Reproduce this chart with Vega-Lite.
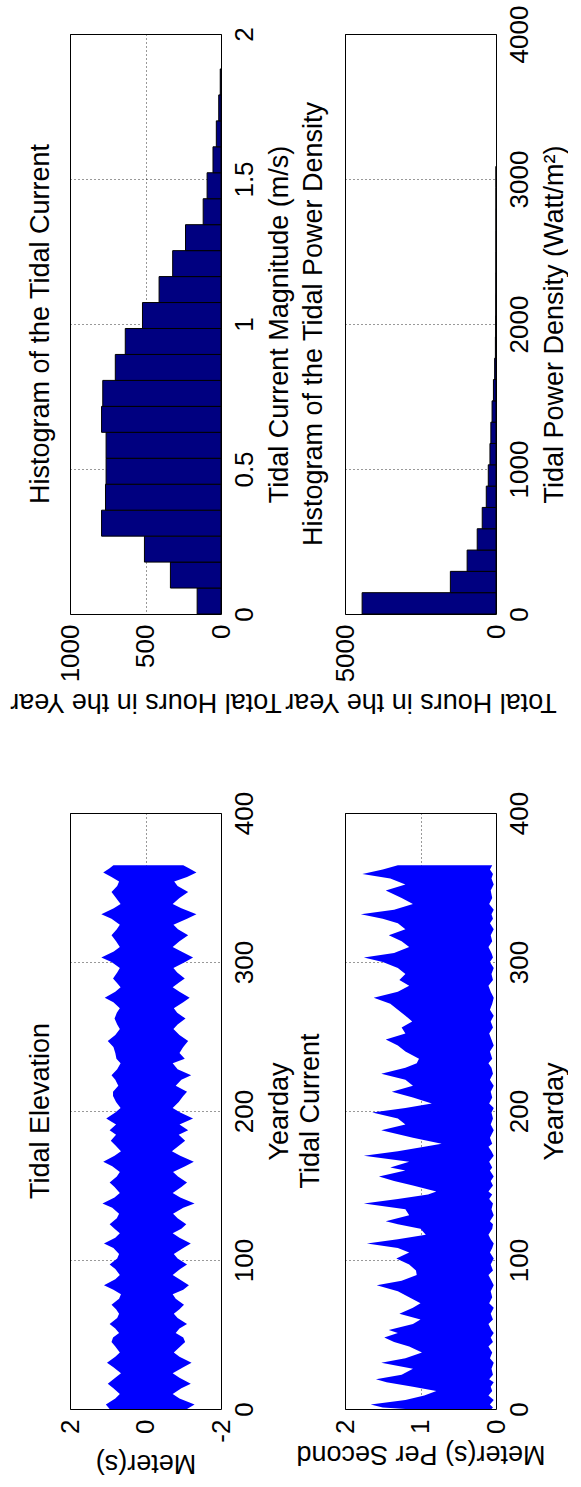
{
  "$schema": "https://vega.github.io/schema/vega-lite/v6.json",
  "padding": {"left": 8, "top": 4, "right": 0, "bottom": 0},
  "background": "white",
  "bounds": "flush",
  "columns": 2,
  "spacing": {"row": 199, "column": 124},
  "datasets": {
    "hist_current": [
      {"lo": 0, "hi": 0.0895, "hours": 158},
      {"lo": 0.0895, "hi": 0.179, "hours": 335},
      {"lo": 0.179, "hi": 0.2685, "hours": 507},
      {"lo": 0.2685, "hi": 0.358, "hours": 791},
      {"lo": 0.358, "hi": 0.4475, "hours": 765},
      {"lo": 0.4475, "hi": 0.537, "hours": 761},
      {"lo": 0.537, "hi": 0.6265, "hours": 761},
      {"lo": 0.6265, "hi": 0.716, "hours": 791},
      {"lo": 0.716, "hi": 0.8055, "hours": 783},
      {"lo": 0.8055, "hi": 0.895, "hours": 700},
      {"lo": 0.895, "hi": 0.9845, "hours": 634},
      {"lo": 0.9845, "hi": 1.074, "hours": 520},
      {"lo": 1.074, "hi": 1.1635, "hours": 410},
      {"lo": 1.1635, "hi": 1.253, "hours": 320},
      {"lo": 1.253, "hi": 1.3425, "hours": 235},
      {"lo": 1.3425, "hi": 1.432, "hours": 118},
      {"lo": 1.432, "hi": 1.5215, "hours": 92},
      {"lo": 1.5215, "hi": 1.611, "hours": 53},
      {"lo": 1.611, "hi": 1.7005, "hours": 31},
      {"lo": 1.7005, "hi": 1.79, "hours": 15},
      {"lo": 1.79, "hi": 1.8795, "hours": 5}
    ],
    "hist_power": [
      {"lo": 0, "hi": 147, "hours": 4433},
      {"lo": 147, "hi": 294, "hours": 1511},
      {"lo": 294, "hi": 441, "hours": 956},
      {"lo": 441, "hi": 588, "hours": 622},
      {"lo": 588, "hi": 735, "hours": 456},
      {"lo": 735, "hi": 882, "hours": 322},
      {"lo": 882, "hi": 1029, "hours": 256},
      {"lo": 1029, "hi": 1176, "hours": 200},
      {"lo": 1176, "hi": 1323, "hours": 170},
      {"lo": 1323, "hi": 1470, "hours": 130},
      {"lo": 1470, "hi": 1617, "hours": 85},
      {"lo": 1617, "hi": 1764, "hours": 45},
      {"lo": 1764, "hi": 1911, "hours": 20},
      {"lo": 1911, "hi": 2058, "hours": 12},
      {"lo": 2058, "hi": 2205, "hours": 8},
      {"lo": 2205, "hi": 2352, "hours": 6},
      {"lo": 2352, "hi": 2499, "hours": 4},
      {"lo": 2499, "hi": 2646, "hours": 3},
      {"lo": 2646, "hi": 2793, "hours": 2},
      {"lo": 2793, "hi": 2940, "hours": 1},
      {"lo": 2940, "hi": 3087, "hours": 1}
    ],
    "elevation": [
      {"day": 0, "hi": 0.95, "lo": -1.1},
      {"day": 3, "hi": 1.05, "lo": -1.3},
      {"day": 7, "hi": 0.8, "lo": -0.9},
      {"day": 10, "hi": 0.68, "lo": -0.72},
      {"day": 14, "hi": 0.85, "lo": -0.95},
      {"day": 17, "hi": 1.0, "lo": -1.2},
      {"day": 21, "hi": 0.8, "lo": -0.9},
      {"day": 24, "hi": 0.65, "lo": -0.72},
      {"day": 28, "hi": 0.85, "lo": -1.0},
      {"day": 31, "hi": 1.02, "lo": -1.22},
      {"day": 35, "hi": 0.8, "lo": -0.9},
      {"day": 38, "hi": 0.68, "lo": -0.75},
      {"day": 42, "hi": 0.8, "lo": -0.92},
      {"day": 45, "hi": 0.9, "lo": -1.05},
      {"day": 48, "hi": 0.86, "lo": -1.0},
      {"day": 51, "hi": 0.7, "lo": -0.8},
      {"day": 54, "hi": 0.8, "lo": -0.9},
      {"day": 57, "hi": 0.95, "lo": -1.1},
      {"day": 61, "hi": 0.75, "lo": -0.85},
      {"day": 64, "hi": 0.7, "lo": -0.75},
      {"day": 67, "hi": 0.78, "lo": -0.9},
      {"day": 70, "hi": 0.9, "lo": -1.02},
      {"day": 74, "hi": 0.7, "lo": -0.8},
      {"day": 77, "hi": 0.65, "lo": -0.72},
      {"day": 80, "hi": 0.85, "lo": -1.0},
      {"day": 83, "hi": 1.1, "lo": -1.15},
      {"day": 87, "hi": 0.8, "lo": -0.9},
      {"day": 90, "hi": 0.68, "lo": -0.72},
      {"day": 94, "hi": 0.8, "lo": -0.92},
      {"day": 97, "hi": 0.95, "lo": -1.1},
      {"day": 101, "hi": 0.75, "lo": -0.85},
      {"day": 104, "hi": 0.7, "lo": -0.75},
      {"day": 108, "hi": 0.85, "lo": -1.0},
      {"day": 111, "hi": 1.1, "lo": -1.2},
      {"day": 115, "hi": 0.8, "lo": -0.9},
      {"day": 118, "hi": 0.68, "lo": -0.72},
      {"day": 121, "hi": 0.82, "lo": -0.95},
      {"day": 124, "hi": 0.95, "lo": -1.08},
      {"day": 128, "hi": 0.76, "lo": -0.85},
      {"day": 131, "hi": 0.7, "lo": -0.73},
      {"day": 135, "hi": 0.88, "lo": -1.0},
      {"day": 138, "hi": 1.14, "lo": -1.3},
      {"day": 142, "hi": 0.82, "lo": -0.92},
      {"day": 145, "hi": 0.68, "lo": -0.72},
      {"day": 149, "hi": 0.82, "lo": -0.95},
      {"day": 152, "hi": 0.95, "lo": -1.1},
      {"day": 156, "hi": 0.76, "lo": -0.86},
      {"day": 159, "hi": 0.68, "lo": -0.73},
      {"day": 163, "hi": 0.88, "lo": -1.05},
      {"day": 166, "hi": 1.12, "lo": -1.28},
      {"day": 170, "hi": 0.82, "lo": -0.92},
      {"day": 173, "hi": 0.65, "lo": -0.7},
      {"day": 177, "hi": 0.8, "lo": -0.9},
      {"day": 180, "hi": 0.92, "lo": -1.05},
      {"day": 184, "hi": 0.78, "lo": -0.88},
      {"day": 187, "hi": 0.95, "lo": -1.13},
      {"day": 191, "hi": 0.78, "lo": -0.9},
      {"day": 195, "hi": 1.04, "lo": -1.26},
      {"day": 199, "hi": 0.8, "lo": -0.92},
      {"day": 202, "hi": 0.66, "lo": -0.72},
      {"day": 206, "hi": 0.78, "lo": -0.88},
      {"day": 210, "hi": 0.86, "lo": -1.0},
      {"day": 213, "hi": 0.86, "lo": -1.1},
      {"day": 217, "hi": 0.72, "lo": -0.8},
      {"day": 221, "hi": 0.8, "lo": -0.95},
      {"day": 224, "hi": 0.9, "lo": -1.21},
      {"day": 228, "hi": 0.75, "lo": -0.85},
      {"day": 232, "hi": 0.66, "lo": -0.72},
      {"day": 235, "hi": 0.77, "lo": -1.04},
      {"day": 239, "hi": 0.8, "lo": -0.9},
      {"day": 243, "hi": 0.85, "lo": -1.0},
      {"day": 247, "hi": 1.0, "lo": -1.13},
      {"day": 251, "hi": 0.8, "lo": -0.9},
      {"day": 255, "hi": 0.68, "lo": -0.74},
      {"day": 258, "hi": 0.75, "lo": -0.85},
      {"day": 262, "hi": 0.82, "lo": -1.06},
      {"day": 266, "hi": 0.76, "lo": -0.84},
      {"day": 269, "hi": 0.68, "lo": -0.75},
      {"day": 273, "hi": 0.85, "lo": -1.0},
      {"day": 276, "hi": 1.08, "lo": -1.17},
      {"day": 280, "hi": 0.8, "lo": -0.9},
      {"day": 283, "hi": 0.66, "lo": -0.72},
      {"day": 286, "hi": 0.76, "lo": -0.88},
      {"day": 289, "hi": 0.86, "lo": -1.04},
      {"day": 293, "hi": 0.75, "lo": -0.84},
      {"day": 296, "hi": 0.68, "lo": -0.74},
      {"day": 300, "hi": 0.9, "lo": -1.05},
      {"day": 303, "hi": 1.17, "lo": -1.26},
      {"day": 307, "hi": 0.84, "lo": -0.95},
      {"day": 310, "hi": 0.68, "lo": -0.72},
      {"day": 314, "hi": 0.78, "lo": -0.9},
      {"day": 318, "hi": 0.9, "lo": -1.13},
      {"day": 322, "hi": 0.76, "lo": -0.86},
      {"day": 325, "hi": 0.68, "lo": -0.74},
      {"day": 329, "hi": 0.9, "lo": -1.1},
      {"day": 332, "hi": 1.17, "lo": -1.35},
      {"day": 336, "hi": 0.84, "lo": -0.95},
      {"day": 339, "hi": 0.66, "lo": -0.72},
      {"day": 343, "hi": 0.78, "lo": -0.9},
      {"day": 347, "hi": 0.9, "lo": -1.13},
      {"day": 351, "hi": 0.75, "lo": -0.85},
      {"day": 354, "hi": 0.7, "lo": -0.76},
      {"day": 357, "hi": 0.9, "lo": -1.1},
      {"day": 360, "hi": 1.12, "lo": -1.35},
      {"day": 363, "hi": 0.95, "lo": -1.15},
      {"day": 365, "hi": 0.85, "lo": -1.0}
    ],
    "current": [
      {"day": 0, "hi": 1.2, "lo": 0.06},
      {"day": 1, "hi": 1.5, "lo": 0.04},
      {"day": 3, "hi": 1.66, "lo": 0.08},
      {"day": 6, "hi": 1.2, "lo": 0.03},
      {"day": 9, "hi": 0.95, "lo": 0.1},
      {"day": 12, "hi": 0.79, "lo": 0.05},
      {"day": 15, "hi": 1.1, "lo": 0.07},
      {"day": 18, "hi": 1.45, "lo": 0.03},
      {"day": 20, "hi": 1.59, "lo": 0.09},
      {"day": 23, "hi": 1.25, "lo": 0.04},
      {"day": 27, "hi": 1.1, "lo": 0.06},
      {"day": 31, "hi": 1.52, "lo": 0.03},
      {"day": 34, "hi": 1.2, "lo": 0.08},
      {"day": 38, "hi": 0.98, "lo": 0.05},
      {"day": 42, "hi": 1.15, "lo": 0.1},
      {"day": 45, "hi": 1.35, "lo": 0.04},
      {"day": 48, "hi": 1.48, "lo": 0.07},
      {"day": 51, "hi": 1.3, "lo": 0.03},
      {"day": 53, "hi": 1.42, "lo": 0.06},
      {"day": 57, "hi": 1.1, "lo": 0.1},
      {"day": 60, "hi": 1.0, "lo": 0.04},
      {"day": 64, "hi": 1.28, "lo": 0.07},
      {"day": 68, "hi": 1.1, "lo": 0.03},
      {"day": 71, "hi": 1.0, "lo": 0.09},
      {"day": 75, "hi": 1.15, "lo": 0.05},
      {"day": 79, "hi": 1.3, "lo": 0.07},
      {"day": 83, "hi": 1.58, "lo": 0.03},
      {"day": 86, "hi": 1.25, "lo": 0.06},
      {"day": 90, "hi": 1.05, "lo": 0.1},
      {"day": 93, "hi": 1.06, "lo": 0.04},
      {"day": 97, "hi": 1.15, "lo": 0.07},
      {"day": 101, "hi": 1.32, "lo": 0.03},
      {"day": 105, "hi": 1.15, "lo": 0.08},
      {"day": 108, "hi": 1.3, "lo": 0.05},
      {"day": 111, "hi": 1.71, "lo": 0.03},
      {"day": 114, "hi": 1.3, "lo": 0.07},
      {"day": 117, "hi": 0.93, "lo": 0.1},
      {"day": 121, "hi": 1.0, "lo": 0.05},
      {"day": 124, "hi": 1.3, "lo": 0.04},
      {"day": 126, "hi": 1.46, "lo": 0.08},
      {"day": 130, "hi": 1.15, "lo": 0.03},
      {"day": 134, "hi": 1.2, "lo": 0.06},
      {"day": 138, "hi": 1.75, "lo": 0.04},
      {"day": 141, "hi": 1.3, "lo": 0.09},
      {"day": 144, "hi": 0.9, "lo": 0.05},
      {"day": 146, "hi": 0.79, "lo": 0.1},
      {"day": 150, "hi": 1.1, "lo": 0.04},
      {"day": 153, "hi": 1.35, "lo": 0.07},
      {"day": 156, "hi": 1.55, "lo": 0.03},
      {"day": 160, "hi": 1.2, "lo": 0.08},
      {"day": 162, "hi": 1.4, "lo": 0.05},
      {"day": 166, "hi": 1.15, "lo": 0.09},
      {"day": 170, "hi": 1.75, "lo": 0.03},
      {"day": 173, "hi": 1.3, "lo": 0.06},
      {"day": 176, "hi": 0.95, "lo": 0.1},
      {"day": 178, "hi": 0.72, "lo": 0.05},
      {"day": 182, "hi": 1.1, "lo": 0.08},
      {"day": 187, "hi": 1.52, "lo": 0.03},
      {"day": 191, "hi": 1.2, "lo": 0.07},
      {"day": 195, "hi": 1.3, "lo": 0.04},
      {"day": 199, "hi": 1.64, "lo": 0.06},
      {"day": 202, "hi": 1.2, "lo": 0.03},
      {"day": 205, "hi": 0.85, "lo": 0.09},
      {"day": 209, "hi": 1.1, "lo": 0.05},
      {"day": 213, "hi": 1.38, "lo": 0.07},
      {"day": 217, "hi": 1.1, "lo": 0.03},
      {"day": 221, "hi": 1.2, "lo": 0.08},
      {"day": 225, "hi": 1.52, "lo": 0.04},
      {"day": 229, "hi": 1.2, "lo": 0.06},
      {"day": 232, "hi": 1.05, "lo": 0.1},
      {"day": 235, "hi": 1.02, "lo": 0.05},
      {"day": 240, "hi": 1.2, "lo": 0.08},
      {"day": 244, "hi": 1.3, "lo": 0.03},
      {"day": 248, "hi": 1.46, "lo": 0.06},
      {"day": 252, "hi": 1.2, "lo": 0.09},
      {"day": 256, "hi": 1.25, "lo": 0.04},
      {"day": 260, "hi": 1.11, "lo": 0.07},
      {"day": 264, "hi": 1.2, "lo": 0.03},
      {"day": 268, "hi": 1.3, "lo": 0.08},
      {"day": 272, "hi": 1.4, "lo": 0.05},
      {"day": 276, "hi": 1.62, "lo": 0.03},
      {"day": 280, "hi": 1.3, "lo": 0.07},
      {"day": 284, "hi": 1.15, "lo": 0.1},
      {"day": 288, "hi": 1.28, "lo": 0.04},
      {"day": 292, "hi": 1.2, "lo": 0.06},
      {"day": 296, "hi": 1.3, "lo": 0.03},
      {"day": 300, "hi": 1.5, "lo": 0.08},
      {"day": 303, "hi": 1.75, "lo": 0.04},
      {"day": 306, "hi": 1.35, "lo": 0.06},
      {"day": 310, "hi": 1.15, "lo": 0.1},
      {"day": 314, "hi": 1.25, "lo": 0.05},
      {"day": 318, "hi": 1.42, "lo": 0.07},
      {"day": 322, "hi": 1.2, "lo": 0.03},
      {"day": 326, "hi": 1.3, "lo": 0.08},
      {"day": 329, "hi": 1.5, "lo": 0.04},
      {"day": 332, "hi": 1.79, "lo": 0.06},
      {"day": 335, "hi": 1.35, "lo": 0.03},
      {"day": 339, "hi": 1.1, "lo": 0.09},
      {"day": 343, "hi": 1.25, "lo": 0.05},
      {"day": 348, "hi": 1.46, "lo": 0.07},
      {"day": 352, "hi": 1.2, "lo": 0.03},
      {"day": 356, "hi": 1.4, "lo": 0.06},
      {"day": 359, "hi": 1.77, "lo": 0.04},
      {"day": 362, "hi": 1.5, "lo": 0.08},
      {"day": 365, "hi": 1.3, "lo": 0.05}
    ]
  },
  "concat": [
    {
      "width": 151,
      "height": 580,
      "title": {"text": "Histogram of the Tidal Current", "offset": -46},
      "data": {"name": "hist_current"},
      "mark": {"type": "rect", "fill": "#000080", "stroke": "black", "strokeWidth": 1},
      "encoding": {
        "y": {
          "field": "lo", "type": "quantitative",
          "scale": {"domain": [0, 2], "nice": false, "zero": false},
          "axis": {"orient": "right", "values": [0, 0.5, 1, 1.5, 2], "title": "Tidal Current Magnitude (m/s)"}
        },
        "y2": {"field": "hi"},
        "x": {
          "field": "hours", "type": "quantitative",
          "scale": {"domain": [0, 1000], "reverse": true, "nice": false},
          "axis": {"values": [0, 500, 1000], "title": "Total Hours in the Year"}
        },
        "x2": {"datum": 0}
      }
    },
    {
      "width": 151,
      "height": 580,
      "title": {"text": "Histogram of the Tidal Power Density", "offset": -44},
      "data": {"name": "hist_power"},
      "mark": {"type": "rect", "fill": "#000080", "stroke": "black", "strokeWidth": 1},
      "encoding": {
        "y": {
          "field": "lo", "type": "quantitative",
          "scale": {"domain": [0, 4000], "nice": false, "zero": false},
          "axis": {"orient": "right", "values": [0, 1000, 2000, 3000, 4000], "title": "Tidal Power Density (Watt/m²)"}
        },
        "y2": {"field": "hi"},
        "x": {
          "field": "hours", "type": "quantitative",
          "scale": {"domain": [0, 5000], "reverse": true, "nice": false},
          "axis": {"values": [0, 5000], "title": "Total Hours in the Year"}
        },
        "x2": {"datum": 0}
      }
    },
    {
      "width": 151,
      "height": 596,
      "title": {"text": "Tidal Elevation", "offset": 2},
      "data": {"name": "elevation"},
      "mark": {"type": "area", "orient": "horizontal", "color": "#0000ff"},
      "encoding": {
        "y": {
          "field": "day", "type": "quantitative",
          "scale": {"domain": [0, 400], "nice": false},
          "axis": {"orient": "right", "values": [0, 100, 200, 300, 400], "title": "Yearday"}
        },
        "x": {
          "field": "hi", "type": "quantitative",
          "scale": {"domain": [-2, 2], "reverse": true, "nice": false, "zero": false},
          "axis": {"values": [-2, 0, 2], "title": "Meter(s)"}
        },
        "x2": {"field": "lo"}
      }
    },
    {
      "width": 151,
      "height": 596,
      "title": {"text": "Tidal Current", "offset": -29},
      "data": {"name": "current"},
      "mark": {"type": "area", "orient": "horizontal", "color": "#0000ff"},
      "encoding": {
        "y": {
          "field": "day", "type": "quantitative",
          "scale": {"domain": [0, 400], "nice": false},
          "axis": {"orient": "right", "values": [0, 100, 200, 300, 400], "title": "Yearday"}
        },
        "x": {
          "field": "hi", "type": "quantitative",
          "scale": {"domain": [0, 2], "reverse": true, "nice": false},
          "axis": {"values": [0, 1, 2], "title": "Meter(s) Per Second"}
        },
        "x2": {"field": "lo"}
      }
    }
  ],
  "config": {
    "font": "Liberation Sans",
    "view": {"stroke": "black", "strokeWidth": 1},
    "title": {
      "font": "Liberation Sans", "fontSize": 27, "fontWeight": "normal", "color": "black",
      "orient": "left", "frame": "group", "anchor": "middle"
    },
    "axis": {
      "labelFont": "Liberation Sans", "labelFontSize": 26, "labelColor": "black",
      "titleFont": "Liberation Sans", "titleFontSize": 27, "titleFontWeight": "normal", "titleColor": "black",
      "domain": false, "ticks": false,
      "grid": true, "gridDash": [1, 3], "gridColor": "#000", "gridOpacity": 0.8,
      "labelPadding": 10, "titlePadding": 9,
      "labelOverlap": false, "labelFlush": false, "labelBound": false,
      "labelExpr": "datum.value + ''"
    },
    "axisX": {"labelAngle": 270, "labelAlign": "right", "labelBaseline": "middle", "titleAngle": 180, "titleBaseline": "bottom", "titlePadding": 6},
    "axisY": {"labelAngle": 270, "labelAlign": "center", "labelBaseline": "top", "titleAngle": 270, "titleBaseline": "top"}
  }
}
